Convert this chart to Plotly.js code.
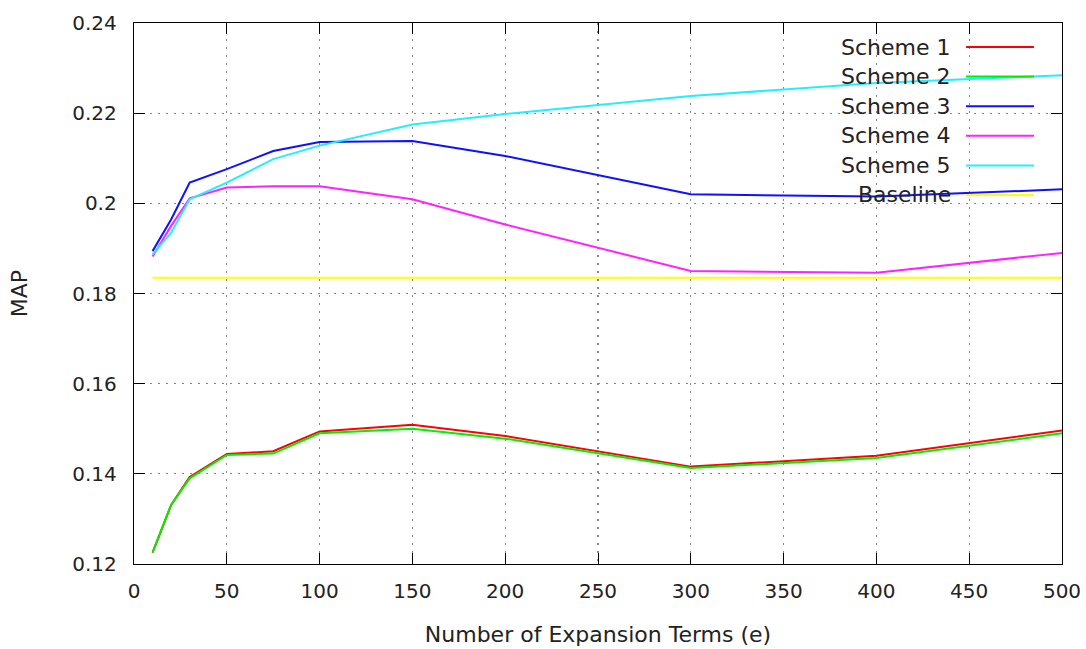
<!DOCTYPE html>
<html>
<head>
<meta charset="utf-8">
<script src="https://cdn.plot.ly/plotly-3.0.1.min.js"></script>
<style>html,body{margin:0;padding:0;background:#fff;}#chart{width:1086px;height:649px;}</style>
</head>
<body>
<div id="chart"></div>
<script>
// x values: number of expansion terms
const terms = [10, 20, 30, 50, 75, 100, 150, 200, 300, 400, 500];

const scheme1 = [0.1225, 0.1331, 0.1393, 0.1444, 0.1450, 0.1494, 0.1509, 0.1484, 0.1416, 0.1440, 0.1496];
const scheme2 = [0.1225, 0.1331, 0.1390, 0.1442, 0.1445, 0.1490, 0.1500, 0.1478, 0.1413, 0.1435, 0.1490];
const scheme3 = [0.1894, 0.1964, 0.2046, 0.2076, 0.2116, 0.2136, 0.2138, 0.2105, 0.2020, 0.2015, 0.2031];
const scheme4 = [0.1882, 0.1950, 0.2011, 0.2035, 0.2038, 0.2038, 0.2009, 0.1953, 0.1850, 0.1846, 0.1890];
const scheme5 = [0.1887, 0.1935, 0.2009, 0.2046, 0.2098, 0.2128, 0.2175, 0.2198, 0.2238, 0.2267, 0.2284];
const baseline = [0.1835, 0.1835, 0.1835, 0.1835, 0.1835, 0.1835, 0.1835, 0.1835, 0.1835, 0.1835, 0.1835];

const seriesNames = ["Scheme 1", "Scheme 2", "Scheme 3", "Scheme 4", "Scheme 5", "Baseline"];
const seriesValues = [scheme1, scheme2, scheme3, scheme4, scheme5, baseline];
const seriesColors = ["#ff0000", "#00ee00", "#1010ff", "#ff22ff", "#22eeff", "#ffff00"];

const xTickVals = [0, 50, 100, 150, 200, 250, 300, 350, 400, 450, 500];
const yTickVals = [0.12, 0.14, 0.16, 0.18, 0.2, 0.22, 0.24];
const yTickText = ["0.12", "0.14", "0.16", "0.18", "0.2", "0.22", "0.24"];

const FONT = "DejaVu Sans, sans-serif";
const TXT = "#222222";

const traces = seriesNames.map((name, i) => ({
  x: terms,
  y: seriesValues[i],
  name: name,
  type: "scatter",
  mode: "lines",
  line: {color: seriesColors[i], width: 2},
  showlegend: false,
  hoverinfo: "x+y+name"
}));

// gnuplot-style key: right-aligned text with line sample to the right
const keyTop = 0.9556, keyStep = 0.0547;
const annotations = [];
const shapes = [
  {type: "rect", xref: "paper", yref: "paper", x0: 0.7608, x1: 1, y0: 0.6506, y1: 1,
   fillcolor: "#ffffff", line: {width: 0}, layer: "between"}
];
seriesNames.forEach((name, i) => {
  const yy = keyTop - i * keyStep;
  annotations.push({
    xref: "paper", yref: "paper", x: 0.8825, y: yy, xanchor: "right", yanchor: "middle",
    text: name, showarrow: false, font: {family: FONT, size: 22, color: TXT}
  });
  shapes.push({
    type: "line", xref: "paper", yref: "paper", x0: 0.8966, x1: 0.9698, y0: yy, y1: yy,
    line: {color: seriesColors[i], width: 2}, layer: "above"
  });
});

const layout = {
  width: 1086, height: 649,
  margin: {l: 134, r: 24, t: 23, b: 85},
  paper_bgcolor: "#ffffff", plot_bgcolor: "#ffffff",
  font: {family: FONT, size: 20, color: TXT},
  showlegend: false,
  xaxis: {
    range: [0, 500], tickvals: xTickVals, ticks: "inside", ticklen: 11, tickcolor: "#000",
    mirror: "ticks", showline: true, linecolor: "#000", linewidth: 1.3,
    showgrid: true, gridcolor: "#888888", griddash: "2px,6px", gridwidth: 1.2, zeroline: false,
    ticklabelstandoff: 9,
    title: {text: "Number of Expansion Terms (e)", font: {family: FONT, size: 22, color: TXT}, standoff: 24}
  },
  yaxis: {
    range: [0.12, 0.24], tickvals: yTickVals, ticktext: yTickText, ticks: "inside", ticklen: 11, tickcolor: "#000",
    mirror: "ticks", showline: true, linecolor: "#000", linewidth: 1.3,
    showgrid: true, gridcolor: "#888888", griddash: "2px,6px", gridwidth: 1.2, zeroline: false,
    ticklabelstandoff: 12,
    title: {text: "MAP", font: {family: FONT, size: 22, color: TXT}, standoff: 38}
  },
  annotations: annotations,
  shapes: shapes
};

Plotly.newPlot("chart", traces, layout, {displayModeBar: false, staticPlot: true});
</script>
</body>
</html>
